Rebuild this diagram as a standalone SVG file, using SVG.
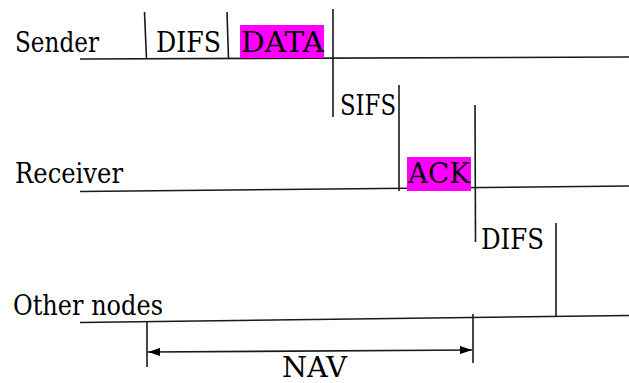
<svg xmlns="http://www.w3.org/2000/svg" width="629" height="383" viewBox="0 0 629 383">
  <style>
    .t { font-family: 'DejaVu Serif', 'Liberation Serif', serif; font-size: 27px; fill: #000; }
    .ln { stroke: #1a1a1a; stroke-width: 1.6; fill: none; }
    .hl { fill: #ff00ff; }
  </style>
  <defs>
    <marker id="ah" viewBox="0 0 12 8" refX="12" refY="4" markerWidth="12" markerHeight="8" markerUnits="userSpaceOnUse" orient="auto-start-reverse">
      <path d="M0,0 L12,4 L0,8 Z" fill="#000"/>
    </marker>
  </defs>
  <rect width="629" height="383" fill="#fff"/>

  <!-- Sender time line -->
  <g id="sender">
    <text class="t" x="15" y="52" textLength="84" lengthAdjust="spacingAndGlyphs">Sender</text>
    <line class="ln" x1="80" y1="59" x2="629" y2="57"/>
  </g>

  <!-- Receiver time line -->
  <g id="receiver">
    <text class="t" x="15" y="183" textLength="108" lengthAdjust="spacingAndGlyphs">Receiver</text>
    <line class="ln" x1="80" y1="191.5" x2="629" y2="186"/>
  </g>

  <!-- Other nodes time line -->
  <g id="other-nodes">
    <text class="t" x="13" y="315" textLength="150" lengthAdjust="spacingAndGlyphs">Other nodes</text>
    <line class="ln" x1="80" y1="322.5" x2="629" y2="315.5"/>
  </g>

  <!-- Frames and interframe spaces -->
  <g id="difs-sender">
    <text class="t" x="156" y="52" textLength="65" lengthAdjust="spacingAndGlyphs">DIFS</text>
  </g>
  <g id="data">
    <rect class="hl" x="240" y="25" width="84" height="33"/>
    <text class="t" x="241" y="52" textLength="83" lengthAdjust="spacingAndGlyphs">DATA</text>
  </g>
  <g id="sifs">
    <text class="t" x="340" y="115" textLength="56" lengthAdjust="spacingAndGlyphs">SIFS</text>
  </g>
  <g id="ack">
    <rect class="hl" x="407" y="157" width="64" height="34"/>
    <text class="t" x="408" y="183" textLength="62" lengthAdjust="spacingAndGlyphs">ACK</text>
  </g>
  <g id="difs-other">
    <text class="t" x="481" y="249" textLength="63" lengthAdjust="spacingAndGlyphs">DIFS</text>
  </g>
  <g id="nav">
    <text class="t" x="282" y="377" textLength="65" lengthAdjust="spacingAndGlyphs">NAV</text>
  </g>

  <!-- Boundary markers and NAV span -->
  <g id="connectors">
    <line class="ln" x1="144.5" y1="12" x2="146.5" y2="59"/>
    <line class="ln" x1="227" y1="12" x2="228.5" y2="59"/>
    <line class="ln" x1="333" y1="9" x2="333" y2="117"/>
    <line class="ln" x1="399" y1="85" x2="399" y2="191"/>
    <line class="ln" x1="475" y1="105" x2="475.5" y2="242"/>
    <line class="ln" x1="556" y1="223" x2="556" y2="317"/>
    <line class="ln" x1="147" y1="322" x2="147" y2="367"/>
    <line class="ln" x1="473" y1="314" x2="473" y2="363"/>
    <line class="ln" x1="148" y1="352" x2="472" y2="350" marker-start="url(#ah)" marker-end="url(#ah)"/>
  </g>
</svg>
